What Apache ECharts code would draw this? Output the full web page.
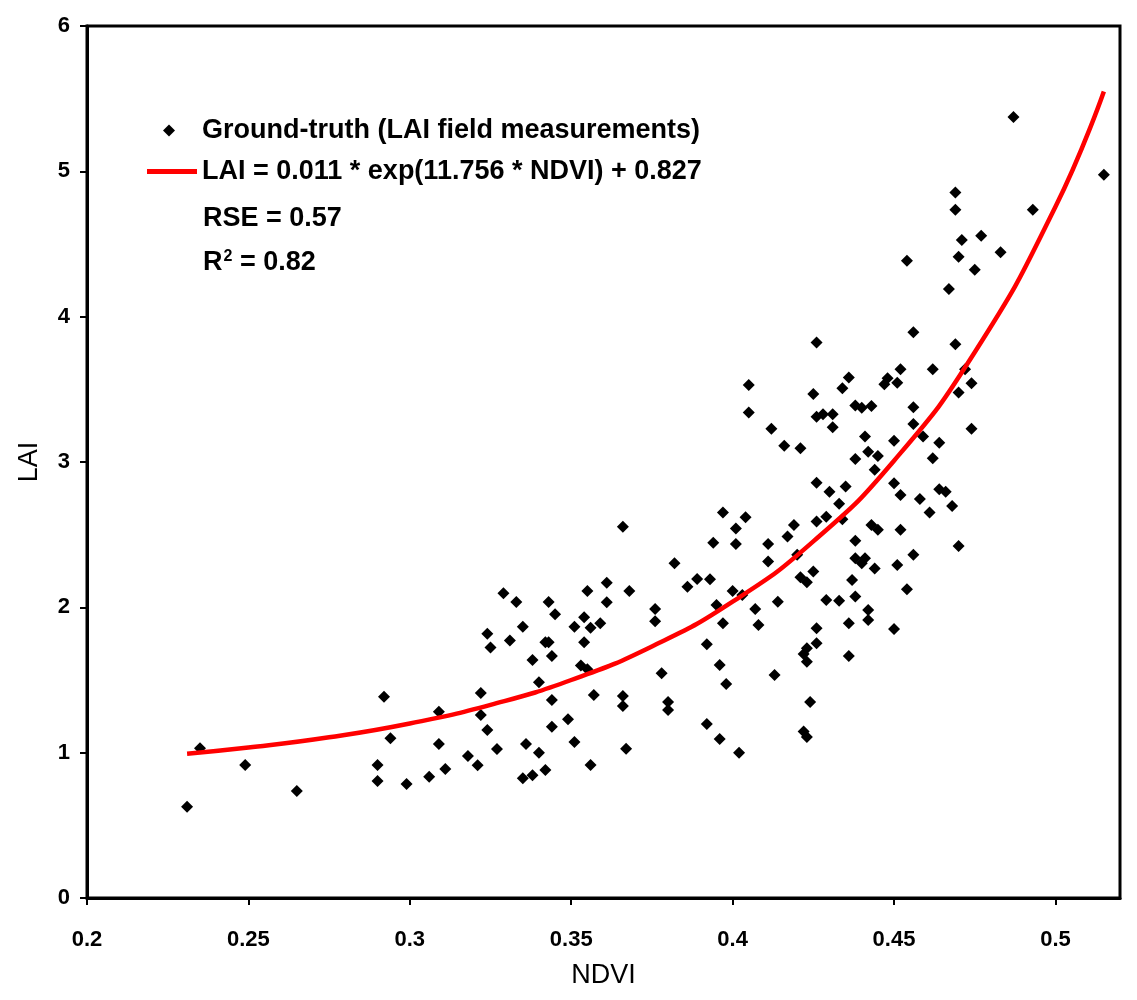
<!DOCTYPE html>
<html>
<head>
<meta charset="utf-8">
<script src="https://cdn.jsdelivr.net/npm/echarts@6/dist/echarts.min.js"></script>
<style>html,body{margin:0;padding:0;background:#fff}#c{width:1137px;height:1000px}</style>
</head>
<body>
<div id="c"></div>
<script>
// Ground-truth points (NDVI, LAI)
var ndvi = [0.235,0.249,0.231,0.265,0.292,0.294,0.290,0.290,0.299,0.306,0.309,0.309,0.311,0.318,0.321,0.322,0.322,0.324,0.327,0.324,0.325,0.329,0.333,0.335,0.331,0.338,0.340,0.336,0.335,0.338,0.340,0.342,0.344,0.344,0.343,0.345,0.342,0.343,0.344,0.349,0.351,0.356,0.357,0.353,0.355,0.354,0.351,0.354,0.356,0.359,0.355,0.361,0.361,0.368,0.366,0.366,0.366,0.367,0.376,0.376,0.378,0.380,0.380,0.382,0.386,0.389,0.405,0.405,0.412,0.416,0.421,0.425,0.434,0.426,0.428,0.431,0.431,0.438,0.438,0.397,0.404,0.401,0.394,0.401,0.411,0.419,0.417,0.426,0.430,0.435,0.433,0.426,0.429,0.434,0.438,0.411,0.420,0.425,0.421,0.423,0.438,0.393,0.395,0.400,0.403,0.407,0.397,0.408,0.414,0.429,0.433,0.438,0.437,0.436,0.426,0.426,0.423,0.422,0.423,0.436,0.392,0.396,0.398,0.413,0.424,0.392,0.396,0.402,0.422,0.456,0.426,0.469,0.436,0.448,0.447,0.451,0.452,0.462,0.440,0.443,0.456,0.456,0.470,0.441,0.450,0.459,0.464,0.442,0.445,0.462,0.444,0.450,0.452,0.458,0.464,0.466,0.468,0.461,0.443,0.445,0.452,0.470,0.456,0.441,0.440,0.444,0.451,0.454,0.442,0.442,0.450,0.423,0.487,0.515,0.469,0.469,0.493,0.471,0.477,0.470,0.483,0.475,0.454,0.467,0.472,0.474,0.474];
var lai = [1.030,0.915,0.628,0.736,1.385,1.099,0.915,0.805,0.785,0.835,1.282,1.060,0.888,0.977,0.913,1.411,1.259,1.156,1.025,1.819,1.723,2.097,2.037,1.867,1.771,1.638,1.484,1.060,0.824,0.844,1.000,0.881,1.179,1.363,2.037,1.952,1.759,1.759,1.665,1.230,1.074,0.915,1.397,1.599,1.574,1.759,1.867,1.932,1.860,1.890,2.113,2.170,2.035,2.113,2.555,1.390,1.321,1.027,1.989,1.904,1.546,1.349,1.294,2.303,2.142,2.195,3.530,3.340,3.228,3.111,3.095,3.468,3.508,3.312,3.329,3.329,3.239,3.388,3.021,2.652,2.620,2.542,2.445,2.436,2.436,2.567,2.487,2.858,2.796,2.831,2.712,2.590,2.624,2.606,2.459,2.315,2.361,2.246,2.207,2.173,2.337,2.193,2.016,2.113,2.085,1.989,1.890,1.879,2.039,2.051,2.046,2.074,2.188,1.890,1.856,1.753,1.718,1.679,1.626,1.665,1.746,1.604,1.473,1.535,1.349,1.197,1.094,1.000,1.145,3.893,3.822,3.810,3.581,3.577,3.535,3.546,3.638,3.638,3.374,3.386,3.376,3.262,3.478,3.175,3.147,3.175,3.133,3.071,3.042,3.026,2.946,2.854,2.773,2.746,2.813,2.796,2.698,2.652,2.567,2.533,2.533,2.422,2.361,2.337,2.303,2.268,2.292,2.124,1.982,1.913,1.851,1.108,5.373,4.976,4.854,4.735,4.735,4.528,4.556,4.413,4.443,4.322,4.384,4.191,3.638,3.542,3.228];
// Fitted curve as drawn
var fitNdvi = [0.231,0.25,0.275,0.30,0.325,0.35,0.375,0.40,0.425,0.45,0.475,0.50,0.515];
var fitLai  = [0.993,1.035,1.106,1.201,1.329,1.500,1.731,2.039,2.454,3.009,3.755,4.756,5.55];
var xTicks = [0.2,0.25,0.3,0.35,0.4,0.45,0.5];
var yTicks = [0,1,2,3,4,5,6];

var pts = ndvi.map(function(v,i){return [v, lai[i]];});
var fit = fitNdvi.map(function(v,i){return [v, fitLai[i]];});

var chart = echarts.init(document.getElementById('c'));
var tickFont = {fontFamily:'"Liberation Sans"', fontWeight:'bold', fontSize:22, color:'#000'};
var txtFont = {fontFamily:'Liberation Sans', fontSize:27, fontWeight:'bold', color:'#000'};
chart.setOption({
  animation:false,
  backgroundColor:'#fff',
  grid:{left:87, right:17, top:26, bottom:102, show:true, borderColor:'#000', borderWidth:3, backgroundColor:'transparent'},
  xAxis:{type:'value', min:0.2, max:0.52, interval:0.05,
    name:'NDVI', nameLocation:'middle', nameGap:64,
    nameTextStyle:{fontFamily:'Liberation Sans', fontSize:27, color:'#000'},
    axisLine:{show:true, lineStyle:{color:'#000', width:3}},
    axisTick:{show:true, length:7, lineStyle:{color:'#000', width:2}},
    axisLabel:Object.assign({margin:31, showMaxLabel:false, formatter:function(v){return xTicks.indexOf(Math.round(v*100)/100)>=0?String(Math.round(v*100)/100):'';}}, tickFont),
    splitLine:{show:false}},
  yAxis:{type:'value', min:0, max:6, interval:1,
    name:'LAI', nameLocation:'middle', nameGap:44,
    nameTextStyle:{fontFamily:'Liberation Sans', fontSize:27, color:'#000'},
    axisLine:{show:true, lineStyle:{color:'#000', width:3}},
    axisTick:{show:true, length:7, lineStyle:{color:'#000', width:2}},
    axisLabel:Object.assign({margin:17, formatter:function(v){return yTicks.indexOf(v)>=0?String(v):'';}}, tickFont),
    splitLine:{show:false}},
  legend:[
    {data:[{name:'Ground-truth (LAI field measurements)', icon:'diamond'}], left:158, top:112, itemWidth:12, itemHeight:12,
     textStyle:Object.assign({padding:[0,0,0,22]}, txtFont)},
    {data:[{name:'LAI = 0.011 * exp(11.756 * NDVI) + 0.827', icon:'rect'}], left:142, top:153, itemWidth:50, itemHeight:5,
     textStyle:Object.assign({padding:[0,0,0,0]}, txtFont)}
  ],
  graphic:[
    {type:'text', left:203, top:205, style:{text:'RSE = 0.57', font:'bold 27px "Liberation Sans"', fill:'#000'}},
    {type:'text', left:203, top:249, style:{text:'R{s|2} = 0.82', font:'bold 27px "Liberation Sans"', fill:'#000',
      rich:{s:{fontSize:16, fontWeight:'bold', fontFamily:'Liberation Sans', verticalAlign:'top', padding:[0,0,12,1]}}}}
  ],
  series:[
    {name:'Ground-truth (LAI field measurements)', type:'scatter', data:pts, symbol:'diamond', symbolSize:12,
     itemStyle:{color:'#000', opacity:1}, z:3},
    {name:'LAI = 0.011 * exp(11.756 * NDVI) + 0.827', type:'line', data:fit, smooth:true, showSymbol:false,
     lineStyle:{color:'#ff0000', width:4.5}, itemStyle:{color:'#ff0000'}, z:4}
  ]
});
</script>
</body>
</html>
